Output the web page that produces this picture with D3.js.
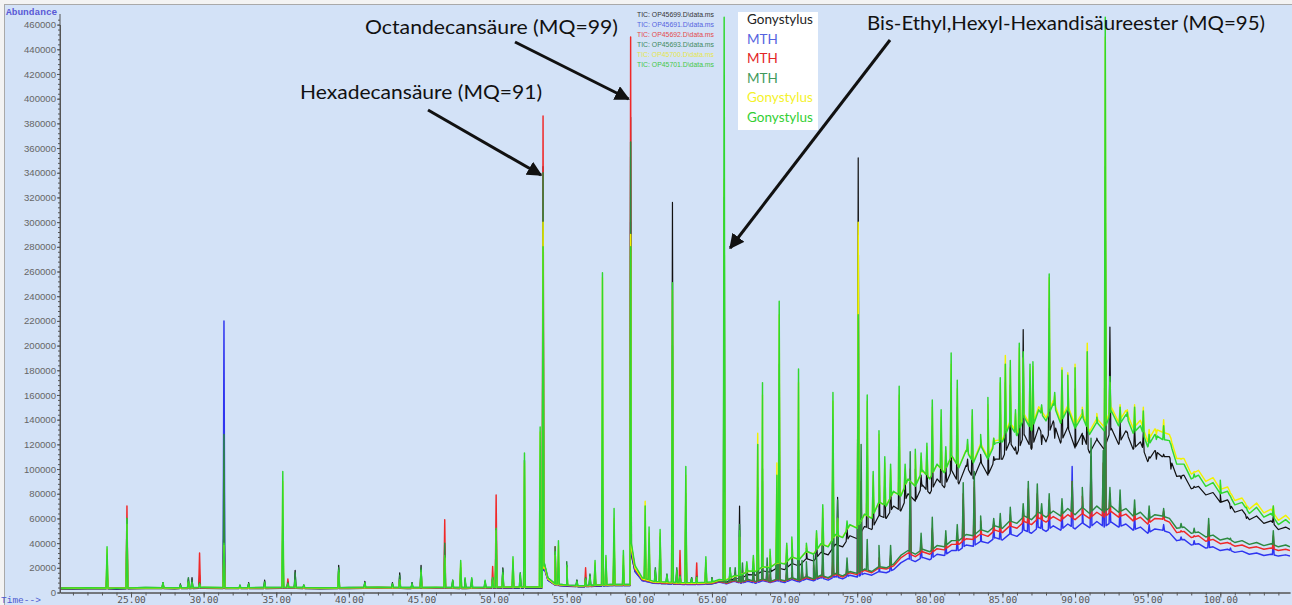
<!DOCTYPE html>
<html>
<head>
<meta charset="utf-8">
<script src="https://cdn.jsdelivr.net/npm/d3@7"></script>
<style>
  html, body { margin: 0; padding: 0; background: #ffffff; overflow: hidden; }
  svg { display: block; }
</style>
</head>
<body>
<svg id="chart" width="1292" height="605"></svg>
<script>
// ---- Samples (drawing order: first drawn at the bottom) ----
const sampleLabels = ["Gonystylus", "MTH", "MTH", "MTH", "Gonystylus", "Gonystylus"];
const sampleFiles = [
  "TIC: OP45699.D\\data.ms", "TIC: OP45691.D\\data.ms", "TIC: OP45692.D\\data.ms",
  "TIC: OP45693.D\\data.ms", "TIC: OP45700.D\\data.ms", "TIC: OP45701.D\\data.ms"
];
const sampleColors = ["#111111", "#2f35f0", "#f02828", "#2c8a40", "#f2f200", "#2fd82f"];
const legendColors = ["#222222", "#5563e0", "#e32626", "#3f9a5c", "#f4f22a", "#33cf33"];
const fileColors = ["#333333", "#5563e0", "#e34a4a", "#3f8a5c", "#e6e64a", "#45c845"];

// ---- Baseline (retention time in minutes, abundance) ----
const baseTimes = [
  20, 22, 24, 26, 28, 30, 32, 34, 36, 38, 40, 42, 44, 46, 48, 50, 52,
  53.3, 53.45, 53.7, 54.2, 55, 56, 57, 58, 59,
  59.35, 59.45, 59.7, 60.2, 61, 62, 63, 64,
  65, 65.5, 66, 66.5, 67, 67.5, 68, 68.5, 69, 69.5,
  70, 70.5, 71, 71.5, 72, 72.5, 73, 73.5, 74, 74.5,
  75, 75.5, 76, 76.5, 77, 77.5, 78, 78.5, 79, 79.5,
  80, 80.5, 81, 81.5, 82, 82.5, 83, 83.5, 84, 84.5,
  85, 85.5, 86, 86.5, 87, 87.5, 88, 88.5, 89, 89.5,
  90, 90.5, 91, 91.5, 92, 92.5, 93, 93.5, 94, 94.5,
  95, 95.5, 96, 96.5, 97, 97.5, 98, 98.5, 99, 99.5,
  100, 100.5, 101, 101.5, 102, 102.5, 103, 103.5, 104, 104.5,
  104.8
];
const baseBlack = [
  2800, 3000, 2800, 3200, 3000, 3300, 3100, 3200, 3300, 3000, 3200, 3400, 3200, 3300, 3200, 3400, 3600,
  3600, 20000, 10000, 6000, 5000, 4500, 5000, 5500, 5500,
  5500, 30000, 17000, 10000, 7500, 7000, 6500, 6500,
  7000, 8500, 8500, 11000, 11500, 14500, 14000, 17500, 16500, 20000,
  18500, 23500, 21500, 27500, 25500, 32500, 30500, 39000, 37000, 46000,
  43500, 53500, 51000, 62500, 60000, 70000, 66000, 80000, 74000, 87000,
  80000, 92000, 85000, 99000, 88000, 103000, 92000, 106000, 95000, 108000,
  108000, 122000, 112000, 128000, 116000, 134000, 122000, 139000, 121000, 134000,
  117000, 129000, 113000, 124000, 116000, 133000, 120000, 131000, 116000, 122000,
  106000, 115000, 110000, 110000, 94000, 95000, 84000, 86000, 79000, 81000,
  73000, 75000, 65000, 67000, 59000, 62000, 56000, 58000, 51000, 53000,
  51000
];
const baseBlue = [
  3200, 3400, 3300, 3600, 3500, 3600, 3400, 3600, 3700, 3400, 3600, 3800, 3600, 3700, 3600, 3800, 4000,
  4000, 20000, 10000, 6000, 5200, 4800, 5200, 5600, 5600,
  5600, 32000, 17000, 9500, 7500, 7000, 6500, 6500,
  7000, 8500, 7000, 9000, 7500, 9000, 7500, 9500, 8000, 9500,
  8000, 10500, 8500, 11000, 9500, 12000, 10000, 13000, 11000, 14000,
  12500, 15500, 14000, 17000, 16000, 18500, 24000, 27500, 25000, 28500,
  26500, 31000, 30000, 34000, 34000, 38500, 37500, 41500, 40000, 44500,
  42500, 47500, 45500, 50500, 48000, 53000, 49500, 54000, 50500, 55500,
  51500, 56500, 52500, 57500, 53000, 57000, 53000, 55500, 50500, 53000,
  48000, 51500, 50500, 48500, 42000, 43000, 38500, 39500, 36000, 37000,
  34000, 35000, 32500, 33500, 31000, 32000, 30000, 31000, 29500, 30500,
  29500
];
const baseRed = [
  3400, 3600, 3500, 3800, 3700, 3800, 3600, 3800, 3900, 3600, 3800, 4000, 3800, 3900, 3800, 4000, 4200,
  4200, 22000, 11000, 6500, 5600, 5200, 5600, 6000, 6000,
  6000, 36000, 19000, 10500, 8000, 7500, 7000, 7000,
  7500, 9000, 7500, 9500, 8000, 10000, 8500, 10500, 8500, 10500,
  9000, 11500, 9500, 12000, 10500, 13000, 11500, 14500, 12500, 16000,
  14500, 18000, 16000, 20000, 19000, 21500, 28000, 32000, 29000, 33000,
  31000, 35500, 34500, 39000, 39000, 43500, 43000, 47500, 45500, 50500,
  48500, 54000, 52000, 57500, 55000, 60500, 57000, 61500, 58000, 63000,
  59000, 64000, 60000, 65000, 61000, 65500, 61000, 63500, 58000, 61000,
  55500, 60000, 59500, 57000, 48500, 49500, 44500, 46000, 41500, 43000,
  39500, 40500, 37500, 38500, 36000, 37000, 35000, 36000, 34000, 35000,
  34000
];
const baseDarkGreen = [
  3600, 3800, 3600, 4000, 3800, 4000, 3800, 4000, 4100, 3800, 4000, 4200, 4000, 4100, 4000, 4200, 4400,
  4400, 24000, 12000, 7000, 6000, 5500, 6000, 6500, 6500,
  6500, 38000, 20000, 11000, 8500, 8000, 7500, 7500,
  8000, 9500, 8000, 10000, 8500, 10500, 9000, 11000, 9000, 11000,
  9500, 12000, 10000, 13000, 11000, 14000, 12000, 15500, 13500, 17000,
  15500, 19000, 17000, 21000, 20000, 23000, 30000, 34000, 31000, 35000,
  33000, 38000, 37000, 42000, 42000, 47000, 46000, 51000, 49000, 54000,
  52000, 58000, 56000, 62000, 59000, 65000, 61000, 66000, 62000, 68000,
  63000, 69000, 64000, 70000, 65000, 70000, 65000, 68000, 62000, 65000,
  59000, 63000, 62000, 60000, 52000, 53000, 48000, 49000, 45000, 46500,
  42500, 44000, 40500, 42000, 39000, 40500, 38000, 39500, 37000, 38500,
  37000
];
const baseYellow = [
  3300, 3600, 3400, 3800, 3600, 4000, 3700, 3800, 4000, 3600, 3800, 4100, 3800, 4000, 3800, 4100, 4300,
  4300, 22000, 11000, 6500, 5800, 5300, 5800, 6200, 6200,
  6200, 36000, 20000, 11000, 8500, 8000, 7500, 7500,
  8000, 10000, 10500, 13000, 14500, 17000, 17500, 20500, 20500, 24000,
  23500, 28500, 27000, 33000, 31500, 39000, 37500, 46500, 45000, 54500,
  52500, 63000, 60500, 73000, 70500, 81500, 78500, 91500, 86500, 98500,
  92500, 103500, 97500, 110500, 101500, 115500, 106000, 120500, 109500, 123000,
  124000, 138000, 129500, 144500, 133500, 150500, 141500, 155500, 139500, 151500,
  135500, 145500, 130500, 141000, 134000, 150000, 138000, 147500, 133000, 139500,
  122500, 132500, 130000, 128000, 108500, 108500, 96000, 99000, 90000, 93000,
  83500, 85500, 74500, 76500, 67500, 72500, 64500, 67500, 58500, 62500,
  59000
];
const baseGreen = [
  3500, 3800, 3500, 4000, 3800, 4200, 3900, 4000, 4200, 3800, 4000, 4300, 4000, 4200, 4000, 4300, 4500,
  4500, 24000, 12000, 7000, 6000, 5500, 6000, 6500, 6500,
  6500, 40000, 22000, 12000, 9000, 8500, 8000, 8000,
  8500, 10500, 10000, 13500, 14000, 17500, 17000, 21000, 20000, 24500,
  23000, 29000, 26500, 33500, 31000, 39500, 37000, 47000, 44500, 55000,
  52000, 63500, 60000, 73500, 70000, 82000, 78000, 92000, 86000, 99000,
  92000, 104000, 97000, 111000, 101000, 115000, 105000, 119000, 108000, 121000,
  122000, 136000, 127000, 142000, 131000, 148000, 139000, 153000, 137000, 149000,
  133000, 143000, 128000, 138000, 131000, 147000, 135000, 144000, 129000, 135000,
  118000, 128000, 124000, 123000, 104000, 104000, 92000, 95000, 86000, 89000,
  80000, 82000, 71000, 73000, 64000, 69000, 61000, 64000, 55000, 59000,
  56000
];

// ---- Peaks: retention times and apex abundance per sample (thousands, 0 = no peak) ----
const peakTimes = [
  23.35, 24.72, 27.2, 28.4, 28.95, 29.2, 29.72, 31.4, 32.5, 33.1,
  34.2, 35.45, 35.8, 36.3, 36.9, 39.3, 41.1, 43.0, 43.5, 44.35,
  44.97, 46.6, 47.15, 47.7, 48.0, 48.46, 49.38, 49.9, 50.14, 50.6,
  51.3, 51.8, 52.09, 53.17, 53.37, 54.2, 54.43, 55.0, 55.7, 56.3,
  56.6, 56.95, 57.46, 57.7, 58.26, 58.9, 59.4, 60.4, 60.67, 61.1,
  61.43, 61.9, 62.28, 62.58, 62.8, 63.2, 63.6, 63.95, 64.58, 65.0,
  65.84, 66.25, 66.6, 66.9, 67.1, 67.4, 67.85, 68.15, 68.48, 68.8,
  69.0, 69.47, 69.63, 70.15, 70.5, 70.96, 71.2, 71.5, 72.0, 72.2,
  72.63, 73.33, 73.65, 74.3, 75.07, 75.27, 75.69, 76.1, 76.5, 76.9,
  77.3, 77.89, 78.3, 78.65, 79.0, 79.4, 79.8, 80.17, 80.78, 81.1,
  81.47, 81.89, 82.3, 82.6, 82.92, 83.06, 83.5, 84.0, 84.4, 84.85,
  85.2, 85.54, 85.9, 86.16, 86.43, 86.78, 86.9, 87.1, 87.4, 87.7,
  88.22, 88.6, 89.1, 89.5, 89.8, 90.0, 90.5, 90.84, 91.1, 91.5,
  91.94, 92.08, 92.4, 93.1, 93.6, 94.1, 94.7, 95.1, 95.6, 96.1,
  96.6, 97.3, 98.2, 99.2, 100.0, 100.7, 101.8, 103.65
];
const peakBlack = [
  20, 58, 8, 7, 11, 12, 14, 78, 6, 8,
  10, 55, 9, 18, 6, 22, 9, 8, 16, 8,
  22, 30, 10, 18, 11, 10, 9, 12, 45, 20,
  18, 14, 53, 0, 345, 30, 25, 22, 10, 12,
  14, 18, 80, 22, 44, 20, 385, 45, 35, 18,
  40, 14, 316, 18, 14, 70, 12, 14, 22, 12,
  190, 20, 0, 70, 0, 22, 25, 85, 90, 0,
  30, 60, 145, 35, 40, 100, 0, 36, 0, 44,
  60, 130, 77, 52, 352, 0, 130, 85, 115, 95,
  90, 140, 92, 0, 100, 95, 105, 135, 128, 105,
  170, 150, 0, 108, 130, 0, 112, 140, 110, 155,
  170, 168, 118, 180, 213, 0, 165, 168, 0, 120,
  230, 125, 165, 160, 0, 165, 120, 170, 0, 125,
  0, 345, 215, 138, 130, 135, 130, 110, 108, 112,
  100, 92, 86, 0, 80, 68, 60, 62
];
const peakBlue = [
  15, 22, 6, 0, 6, 0, 6, 220, 0, 0,
  6, 14, 0, 8, 0, 8, 0, 0, 7, 0,
  10, 15, 0, 8, 0, 0, 0, 8, 30, 8,
  10, 0, 35, 0, 200, 20, 0, 10, 0, 8,
  0, 10, 25, 0, 15, 0, 300, 20, 0, 0,
  15, 0, 50, 0, 10, 30, 0, 8, 10, 0,
  320, 0, 14, 20, 16, 12, 12, 15, 20, 18,
  14, 18, 30, 16, 15, 22, 18, 14, 20, 16,
  20, 25, 22, 20, 165, 80, 0, 0, 25, 0,
  28, 0, 0, 95, 0, 40, 0, 50, 0, 42,
  0, 45, 75, 0, 0, 85, 55, 0, 52, 55,
  0, 60, 0, 0, 62, 78, 0, 0, 76, 62,
  70, 0, 65, 0, 102, 0, 70, 0, 110, 0,
  95, 200, 75, 70, 0, 62, 0, 55, 0, 55,
  0, 45, 42, 50, 0, 36, 0, 42
];
const peakRed = [
  20, 70, 7, 0, 8, 0, 32, 60, 0, 0,
  6, 16, 11, 8, 0, 9, 0, 0, 8, 0,
  12, 59, 0, 10, 0, 0, 0, 21, 79, 10,
  12, 0, 40, 0, 386, 37, 0, 12, 0, 20,
  0, 12, 30, 0, 18, 0, 450, 25, 0, 0,
  18, 0, 60, 0, 34, 35, 0, 24, 12, 0,
  80, 0, 16, 22, 18, 14, 14, 18, 22, 20,
  15, 20, 35, 18, 16, 25, 20, 15, 22, 18,
  24, 30, 30, 22, 170, 90, 0, 0, 28, 0,
  30, 0, 0, 100, 0, 42, 0, 52, 0, 45,
  0, 48, 80, 0, 0, 90, 58, 0, 56, 58,
  0, 63, 0, 0, 66, 84, 0, 0, 80, 66,
  75, 0, 70, 0, 90, 0, 78, 0, 105, 0,
  105, 270, 80, 76, 0, 68, 0, 62, 0, 66,
  0, 50, 46, 55, 0, 40, 0, 46
];
const peakDarkGreen = [
  30, 60, 8, 6, 12, 10, 8, 128, 5, 7,
  9, 60, 8, 16, 6, 20, 8, 7, 14, 8,
  20, 40, 9, 20, 10, 11, 9, 12, 51, 19,
  25, 16, 107, 0, 340, 37, 20, 25, 10, 12,
  15, 22, 85, 25, 44, 22, 365, 50, 40, 20,
  45, 15, 200, 20, 14, 80, 12, 13, 24, 12,
  260, 18, 20, 55, 24, 18, 20, 80, 100, 28,
  25, 70, 185, 28, 30, 115, 26, 25, 30, 30,
  45, 140, 75, 28, 275, 120, 43, 0, 38, 0,
  38, 0, 0, 114, 0, 48, 0, 61, 0, 50,
  0, 55, 89, 0, 0, 98, 62, 0, 60, 64,
  0, 69, 0, 0, 72, 90, 0, 0, 88, 72,
  80, 0, 76, 0, 90, 0, 85, 0, 125, 0,
  115, 300, 85, 83, 0, 75, 0, 70, 0, 68,
  0, 56, 52, 60, 0, 44, 0, 50
];
const peakYellow = [
  35, 55, 7, 0, 8, 0, 6, 38, 0, 0,
  0, 90, 0, 0, 0, 16, 0, 0, 10, 0,
  16, 28, 0, 24, 0, 0, 0, 10, 50, 14,
  27, 0, 105, 130, 300, 30, 38, 20, 0, 10,
  0, 24, 255, 28, 60, 30, 290, 74, 48, 0,
  48, 0, 245, 0, 12, 95, 0, 12, 26, 0,
  335, 0, 0, 45, 0, 24, 28, 129, 160, 0,
  33, 105, 225, 38, 43, 170, 0, 38, 0, 48,
  68, 155, 60, 55, 300, 0, 155, 95, 128, 105,
  100, 160, 100, 0, 112, 110, 118, 150, 142, 115,
  185, 165, 0, 120, 143, 0, 124, 152, 125, 170,
  192, 182, 145, 198, 190, 0, 180, 183, 0, 150,
  255, 160, 182, 178, 0, 185, 150, 202, 0, 145,
  0, 450, 170, 152, 148, 152, 150, 132, 128, 140,
  125, 108, 98, 0, 88, 80, 70, 70
];
const peakGreen = [
  37, 60, 8, 6, 9, 8, 7, 40, 6, 7,
  8, 98, 7, 10, 6, 18, 8, 7, 10, 7,
  18, 30, 10, 26, 12, 12, 10, 12, 52, 16,
  29, 15, 113, 134, 280, 33, 42, 22, 9, 11,
  13, 26, 259, 30, 68, 34, 280, 70, 53, 18,
  51, 14, 251, 18, 13, 102, 11, 12, 29, 11,
  466, 20, 0, 50, 0, 25, 30, 120, 170, 0,
  35, 95, 236, 40, 45, 181, 0, 40, 0, 50,
  71, 162, 60, 58, 225, 0, 160, 98, 131, 110,
  104, 167, 104, 0, 116, 113, 121, 156, 148, 118,
  194, 172, 0, 124, 148, 0, 128, 158, 125, 174,
  185, 188, 148, 202, 195, 0, 185, 187, 0, 152,
  258, 162, 180, 176, 0, 182, 148, 195, 0, 142,
  0, 466, 175, 150, 146, 150, 147, 128, 124, 135,
  120, 104, 96, 0, 91, 78, 69, 70
];
const peakUnit = 1000;

// ---- Axis ticks ----
const timeTicks = [25, 30, 35, 40, 45, 50, 55, 60, 65, 70, 75, 80, 85, 90, 95, 100];
const abundanceTicks = [0, 20000, 40000, 60000, 80000, 100000, 120000, 140000, 160000, 180000,
  200000, 220000, 240000, 260000, 280000, 300000, 320000, 340000, 360000, 380000,
  400000, 420000, 440000, 460000];

// ---- Compound annotations ----
const compoundLabels = ["Hexadecansäure (MQ=91)", "Octandecansäure (MQ=99)", "Bis-Ethyl,Hexyl-Hexandisäureester (MQ=95)"];

// =====================================================================
const W = 1292, H = 605;
const plot = { left: 60, right: 1290, top: 6, bottom: 592.5 };

const x = d3.scaleLinear().domain([20.11, 104.8]).range([plot.left, plot.right]);
const y = d3.scaleLinear().domain([0, 460000]).range([plot.bottom, 24.6]);

const svg = d3.select("#chart");
const defs = svg.append("defs");

// panel
svg.append("rect").attr("x", 0).attr("y", 0).attr("width", W).attr("height", H).attr("fill", "#f3f3f3");
svg.append("rect").attr("x", 4.5).attr("y", 4.5).attr("width", W).attr("height", H)
  .attr("fill", "#d3e2f7").attr("stroke", "#a9a9a9");

defs.append("clipPath").attr("id", "plotClip")
  .append("rect").attr("x", plot.left).attr("y", plot.top)
  .attr("width", plot.right - plot.left).attr("height", plot.bottom - plot.top + 1);

// traces
const baselines = [baseBlack, baseBlue, baseRed, baseDarkGreen, baseYellow, baseGreen];
const peakSets = [peakBlack, peakBlue, peakRed, peakDarkGreen, peakYellow, peakGreen];
const halfWidth = 0.06;

function traceOf(base, peaks) {
  const level = t => {
    let i = d3.bisectRight(baseTimes, t);
    i = Math.max(1, Math.min(baseTimes.length - 1, i));
    const t0 = baseTimes[i - 1], t1 = baseTimes[i];
    const f = (t - t0) / (t1 - t0);
    return base[i - 1] + (base[i] - base[i - 1]) * f;
  };
  const pts = baseTimes.map((t, i) => ({ t, v: base[i] }));
  peakTimes.forEach((t, j) => {
    const h = peaks[j];
    if (!h) return;
    pts.push({ t: t - halfWidth, v: level(t - halfWidth) });
    pts.push({ t: t, v: h * peakUnit });
    pts.push({ t: t + halfWidth, v: level(t + halfWidth) });
  });
  pts.sort((a, b) => a.t - b.t);
  return pts;
}

const line = d3.line().x(d => x(d.t)).y(d => y(d.v));
const traces = svg.append("g").attr("clip-path", "url(#plotClip)");
baselines.forEach((base, k) => {
  traces.append("path")
    .datum(traceOf(base, peakSets[k]))
    .attr("d", line)
    .attr("fill", "none")
    .attr("stroke", sampleColors[k])
    .attr("stroke-width", k === 0 ? 1.2 : 1.45)
    .attr("stroke-linejoin", "round");
});

// y axis
const yAxis = svg.append("g").attr("transform", `translate(${plot.left},0)`);
yAxis.call(d3.axisLeft(y).tickValues(abundanceTicks).tickFormat(d3.format("d")).tickSize(3).tickSizeOuter(0));
yAxis.append("g").call(d3.axisLeft(y).tickValues(d3.range(0, 464001, 4000)).tickFormat("").tickSize(2).tickSizeOuter(0));
yAxis.selectAll("path.domain").attr("stroke", "#555");
yAxis.selectAll(".tick line").attr("stroke", "#555");
yAxis.selectAll(".tick text")
  .attr("fill", "#666").attr("font-family", "'Liberation Sans', Arial, sans-serif")
  .attr("font-size", "9.6px").attr("x", -4);
yAxis.append("line").attr("x1", 0).attr("x2", 0).attr("y1", 14).attr("y2", plot.bottom).attr("stroke", "#555");

// x axis
const xAxis = svg.append("g").attr("transform", `translate(0,${plot.bottom})`);
xAxis.call(d3.axisBottom(x).tickValues(timeTicks).tickFormat(d3.format(".2f")).tickSize(5).tickSizeOuter(0));
xAxis.append("g").call(d3.axisBottom(x).tickValues(d3.range(21, 105, 1)).tickFormat("").tickSize(3).tickSizeOuter(0));
xAxis.selectAll("path.domain").attr("stroke", "#555");
xAxis.selectAll(".tick line").attr("stroke", "#555");
xAxis.selectAll(".tick text")
  .attr("fill", "#555").attr("font-family", "'DejaVu Sans Mono', monospace")
  .attr("font-size", "9.5px").attr("y", 4).attr("dy", "0.71em");

// axis titles
svg.append("text").attr("x", 6).attr("y", 15).text("Abundance")
  .attr("font-family", "'Liberation Mono', monospace").attr("font-weight", "bold")
  .attr("font-size", "9.5px").attr("fill", "#5a5ad6");
svg.append("text").attr("x", 1).attr("y", 603).text("Time-->")
  .attr("font-family", "'Liberation Mono', monospace")
  .attr("font-size", "9.5px").attr("fill", "#4d5bd0");

// file names
sampleFiles.forEach((f, k) => {
  svg.append("text").attr("x", 637).attr("y", 16.5 + k * 10).text(f)
    .attr("font-family", "'Liberation Sans', Arial, sans-serif").attr("font-size", "7.4px")
    .attr("textLength", 77).attr("lengthAdjust", "spacingAndGlyphs")
    .attr("fill", fileColors[k]);
});

// legend
svg.append("rect").attr("x", 738).attr("y", 12).attr("width", 80).attr("height", 118).attr("fill", "#ffffff");
sampleLabels.forEach((lab, k) => {
  svg.append("text").attr("x", 747).attr("y", 24 + k * 19.6).text(lab)
    .attr("font-family", "Lato, 'Open Sans', sans-serif").attr("font-size", "13.5px")
    .attr("fill", legendColors[k]);
});

// annotations
const annot = svg.append("g");
defs.append("marker").attr("id", "head").attr("viewBox", "0 0 10 10")
  .attr("refX", 9).attr("refY", 5).attr("markerWidth", 5).attr("markerHeight", 5)
  .attr("orient", "auto").attr("markerUnits", "strokeWidth")
  .append("path").attr("d", "M0,0 L10,5 L0,10 z").attr("fill", "#111");

const annotations = [
  { text: compoundLabels[0], tx: 300, ty: 99, len: 242, from: [428, 110], peak: 53.37, tip: 175 },
  { text: compoundLabels[1], tx: 365, ty: 34, len: 253, from: [515, 42], peak: 59.4, tip: 99 },
  { text: compoundLabels[2], tx: 867, ty: 30, len: 398, from: [890, 40], peak: 65.84, tip: 248 }
];
annotations.forEach(a => {
  annot.append("text").attr("x", a.tx).attr("y", a.ty).text(a.text)
    .attr("font-family", "Lato, 'Open Sans', sans-serif").attr("font-size", "20px")
    .attr("textLength", a.len).attr("lengthAdjust", "spacingAndGlyphs")
    .attr("fill", "#111");
  const tipX = x(a.peak) + (a.from[0] < x(a.peak) ? -2 : 6);
  annot.append("line").attr("x1", a.from[0]).attr("y1", a.from[1])
    .attr("x2", tipX).attr("y2", a.tip)
    .attr("stroke", "#111").attr("stroke-width", 3)
    .attr("marker-end", "url(#head)");
});
</script>
</body>
</html>
